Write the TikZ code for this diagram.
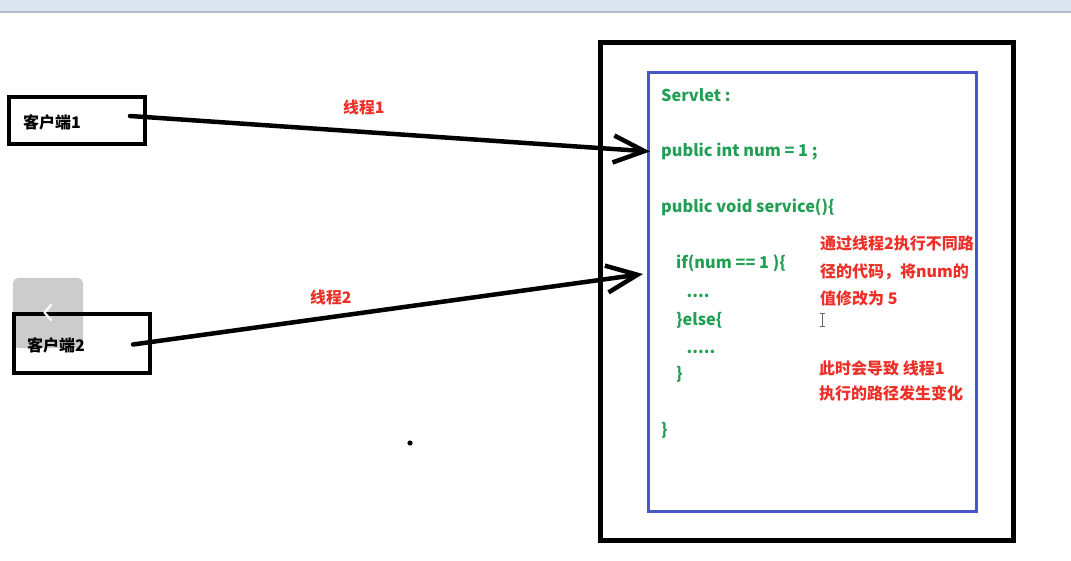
\documentclass[tikz,border=0pt]{standalone}
\usepackage{fontspec}
\setmainfont{Noto Sans CJK SC}
\usetikzlibrary{arrows.meta}
\definecolor{codegreen}{RGB}{35,158,85}
\definecolor{notered}{RGB}{236,48,40}
\definecolor{boxblue}{RGB}{72,86,204}
\definecolor{barfill}{RGB}{220,230,242}
\definecolor{barline}{RGB}{176,190,206}
\tikzset{
  clientbox/.style={draw=black, line width=4pt, minimum width=136pt, minimum height=47pt, inner sep=0pt},
  clienttext/.style={font=\bfseries\fontsize{16}{16}\selectfont, anchor=base west, inner sep=0pt},
  threadlabel/.style={font=\bfseries\fontsize{15.8}{15.8}\selectfont, text=notered, anchor=base west, inner sep=0pt},
  code/.style={font=\bfseries\fontsize{16.3}{16.3}\selectfont, text=codegreen, anchor=base west, inner sep=0pt},
  note/.style={font=\bfseries\fontsize{16}{16}\selectfont, text=notered, anchor=base west, inner sep=0pt},
  thread/.style={line width=4.5pt, line cap=round, -{Straight Barb[length=31pt, width=27pt]}},
}
\begin{document}
\begin{tikzpicture}[x=1pt, y=-1pt]
\useasboundingbox (0,0) rectangle (1071,561);
% toolbar strip at the top
\fill[barfill] (0,0) rectangle (1071,11);
\fill[barline] (0,11) rectangle (1071,13.5);
% server container
\node[draw=black, line width=4.5pt, minimum width=413pt, minimum height=498pt, inner sep=0pt] (server) at (807,291.5) {};
\node[draw=boxblue, line width=2.5pt, minimum width=328pt, minimum height=439pt, inner sep=0pt] (servlet) at (812.5,292.2) {};
% clients
\node[clientbox] (c1) at (77,120.5) {};
\node[clienttext] (c1t) at (23,128.5) {客户端1};
\node[clientbox, minimum height=59pt] (c2) at (82,343.5) {};
\node[clienttext] (c2t) at (27,351.5) {客户端2};
% code
\node[code] (l1) at (661,101.7) {Servlet :};
\node[code] (l2) at (661,157) {public int num = 1 ;};
\node[code] (l3) at (661,212.5) {public void service()\{};
\node[code] (l4) at (676,269) {if(num == 1 )\{};
\node[code] (l5) at (686.5,297.5) {....};
\node[code] (l6) at (676,325.5) {\}else\{};
\node[code] (l7) at (686.5,353.5) {.....};
\node[code] (l8) at (676,379) {\}};
\node[code] (l9) at (661,435) {\}};
% notes
\node[note] (n1) at (820,249.5) {通过线程2执行不同路};
\node[note] (n2) at (820,277.5) {径的代码，将num的};
\node[note] (n3) at (820,305) {值修改为 5};
\node[note] (n4) at (819,374) {此时会导致 线程1};
\node[note] (n5) at (819,399.5) {执行的路径发生变化};
% connectors
\coordinate (s1) at (130,116);
\coordinate (t1) at (650,151.5);
\coordinate (s2) at (133,344.5);
\coordinate (t2) at (643,274);
\draw[thread] (s1) -- (t1);
\draw[thread] (s2) -- (t2);
\node[threadlabel] (lab1) at (343,113.5) {线程1};
\node[threadlabel] (lab2) at (310,304) {线程2};
% stray dot
\fill[black] (410,443) circle (2.6pt);
% text cursor
\draw[gray!80!black, line width=0.8pt] (822,313.5) -- (822,326.5)
  (819.5,313.5) -- (824.5,313.5) (819.5,326.5) -- (824.5,326.5);
% overlay button
\fill[black, opacity=0.2, rounded corners=5pt] (13,278) rectangle (83,348);
\draw[white, line width=2.2pt, line cap=round, line join=round] (51,305) -- (44.5,312.5) -- (51,320);
\end{tikzpicture}
\end{document}
